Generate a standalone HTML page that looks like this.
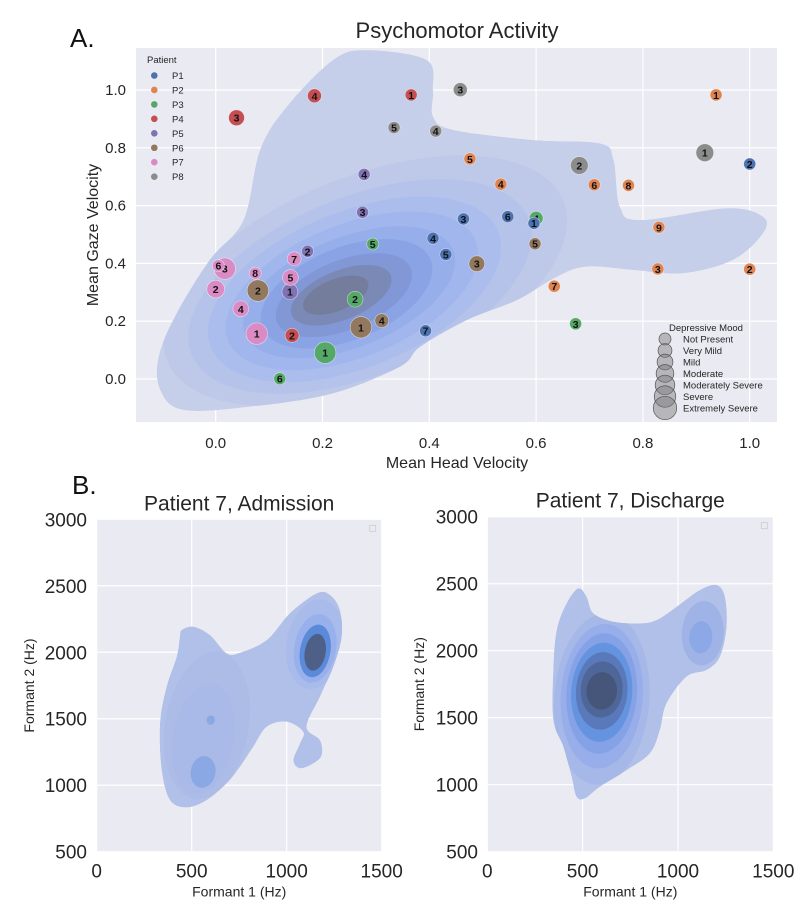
<!DOCTYPE html>
<html><head><meta charset="utf-8">
<style>
html,body{margin:0;padding:0;background:#fff;}
svg{display:block;font-family:"Liberation Sans",Arial,sans-serif;}
</style></head>
<body>
<svg id="root" width="800" height="924" viewBox="0 0 800 924" xmlns="http://www.w3.org/2000/svg"></svg>
<script>
// ---------- Panel A data ----------
const patients = ['P1','P2','P3','P4','P5','P6','P7','P8'];
const patientColors = ['#4c72b0','#dd8452','#55a868','#c44e52','#8172b3','#937860','#da8bc3','#8c8c8c'];
const pointPatient = [0,0,0,0,0,0,0, 1,1,1,1,1,1,1,1,1, 2,2,2,2,2,2, 3,3,3,3, 4,4,4,4, 5,5,5,5,5, 6,6,6,6,6,6,6,6, 7,7,7,7,7];
const pointLabel   = [1,2,3,4,5,6,7, 1,2,3,4,5,6,7,8,9, 1,2,3,4,5,6, 1,2,3,4, 1,2,3,4, 1,2,3,4,5, 1,2,3,4,5,6,7,8, 1,2,3,4,5];
const headVel = [0.596,1.0,0.464,0.407,0.431,0.547,0.393, 0.937,1.0,0.828,0.534,0.476,0.709,0.634,0.773,0.830, 0.205,0.261,0.674,0.600,0.294,0.120, 0.366,0.143,0.039,0.185, 0.139,0.172,0.275,0.278, 0.272,0.079,0.489,0.311,0.598, 0.077,0.0,0.017,0.047,0.140,0.005,0.147,0.074, 0.916,0.681,0.458,0.412,0.334];
const gazeVel = [0.539,0.744,0.554,0.487,0.431,0.562,0.167, 0.983,0.380,0.381,0.674,0.762,0.672,0.321,0.670,0.525, 0.091,0.276,0.191,0.556,0.467,0.001, 0.983,0.151,0.904,0.980, 0.302,0.442,0.577,0.708, 0.179,0.306,0.399,0.202,0.468, 0.157,0.311,0.382,0.243,0.351,0.392,0.416,0.366, 0.783,0.739,1.001,0.858,0.870];
const moodLevel = [0,0,0,0,0,0,0, 0,0,0,0,0,0,0,0,0, 5,2,0,1,0,0, 0,1,2,1, 2,0,0,0, 5,5,2,1,0, 5,3,5,2,2,0,1,0, 3,3,1,0,0];
const moodNames = ['Not Present','Very Mild','Mild','Moderate','Moderately Severe','Severe','Extremely Severe'];
const xTicksA = [0.0,0.2,0.4,0.6,0.8,1.0];
const yTicksA = [0.0,0.2,0.4,0.6,0.8,1.0];
const kdeOuterA = [[-0.104,-0.038],[-0.107,0.077],[-0.073,0.227],[-0.011,0.412],[0.052,0.55],[0.083,0.792],[0.133,0.942],[0.22,1.104],[0.283,1.138],[0.395,1.104],[0.407,1.0],[0.407,0.908],[0.445,0.862],[0.595,0.827],[0.72,0.815],[0.745,0.758],[0.757,0.596],[0.795,0.55],[0.957,0.591],[1.025,0.562],[1.025,0.504],[0.969,0.412],[0.876,0.366],[0.782,0.377],[0.695,0.389],[0.639,0.354],[0.564,0.273],[0.47,0.204],[0.383,0.112],[0.345,0.043],[0.22,-0.049],[0.064,-0.096],[-0.061,-0.107]];
const kdeCxA = [0.28,0.27,0.26,0.255,0.25,0.245,0.24,0.235,0.225];
const kdeCyA = [0.34,0.32,0.31,0.305,0.30,0.295,0.29,0.29,0.29];
const kdeRxA = [0.40,0.34,0.29,0.25,0.21,0.17,0.135,0.10,0.065];
const kdeRyA = [0.36,0.31,0.27,0.23,0.19,0.16,0.12,0.085,0.055];

// ---------- Panel B data ----------
const xTicksB = [0,500,1000,1500];
const yTicksB = [500,1000,1500,2000,2500,3000];
const admOuter = [[447,2167],[509,2192],[596,2130],[684,1992],[754,1997],[895,2092],[1017,2293],[1158,2443],[1228,2431],[1280,2318],[1289,2117],[1245,1891],[1175,1666],[1105,1440],[1175,1340],[1184,1227],[1140,1164],[1070,1127],[1035,1189],[1070,1315],[1087,1402],[1000,1478],[895,1440],[824,1290],[754,1139],[684,1014],[579,888],[474,833],[386,888],[342,1114],[333,1465],[368,1741],[421,1967],[438,2117]];
const admCx = [580,560,1150,1150,1150,1150,560,600];
const admCy = [1450,1350,2060,2030,2010,2000,1100,1490];
const admRx = [220,160,150,110,80,55,65,22];
const admRy = [560,420,340,260,200,140,120,35];
const admCol = ['#adbce7','#a9b9e8','#a9bbea','#98b0ec','#5b8ad8','#4e5f88','#8aa8e4','#8aa8e4'];
const disOuter = [[477,2465],[521,2403],[556,2279],[661,2216],[801,2204],[888,2229],[993,2328],[1115,2453],[1203,2490],[1246,2403],[1255,2179],[1220,1955],[1150,1856],[1045,1806],[940,1607],[905,1408],[853,1234],[731,1109],[591,985],[512,898],[468,910],[442,1060],[399,1284],[346,1483],[346,1856],[364,2154],[416,2353]];
const disCx = [1130,1120,600,600,600,600,600,600,600];
const disCy = [2130,2100,1640,1660,1680,1690,1700,1710,1700];
const disRx = [110,60,250,215,185,160,135,110,80];
const disRy = [240,120,640,540,450,370,290,210,140];
const disCol = ['#9fb3e6','#8ca8e6','#a6b8e8','#97aeea','#86a2e6','#6493e0','#5979bb','#4f6698','#46557a'];

// ---------- helpers ----------
const NS='http://www.w3.org/2000/svg';
const root=document.getElementById('root');
function mk(tag,attrs,parent){const e=document.createElementNS(NS,tag);for(const k in attrs)e.setAttribute(k,attrs[k]);(parent||root).appendChild(e);return e;}
function txt(s,attrs,parent){const e=mk('text',attrs,parent);e.textContent=s;return e;}
function smoothClosed(pts){
 const n=pts.length;let d='M'+pts[0][0].toFixed(1)+','+pts[0][1].toFixed(1);
 for(let i=0;i<n;i++){
  const p0=pts[(i-1+n)%n],p1=pts[i],p2=pts[(i+1)%n],p3=pts[(i+2)%n];
  const c1=[p1[0]+(p2[0]-p0[0])/6,p1[1]+(p2[1]-p0[1])/6];
  const c2=[p2[0]-(p3[0]-p1[0])/6,p2[1]-(p3[1]-p1[1])/6];
  d+='C'+c1[0].toFixed(1)+','+c1[1].toFixed(1)+' '+c2[0].toFixed(1)+','+c2[1].toFixed(1)+' '+p2[0].toFixed(1)+','+p2[1].toFixed(1);
 }
 return d+'Z';
}

// ===== Panel A =====
const A={l:136,r:777,t:48,b:422};
const xA=v=>215.7+v*534, yA=v=>379-v*289;
let g=mk('g',{});


let bg=mk('rect',{x:A.l,y:A.t,width:A.r-A.l,height:A.b-A.t,fill:'#eaeaf2'},g);


xTicksA.forEach(v=>{mk('line',{x1:xA(v),x2:xA(v),y1:A.t,y2:A.b,stroke:'#fff','stroke-width':1.2},g);
 const t=txt(v.toFixed(1),{x:xA(v),y:448,'font-size':15,'text-anchor':'middle',fill:'#262626'},g);
 });
yTicksA.forEach(v=>{mk('line',{x1:A.l,x2:A.r,y1:yA(v),y2:yA(v),stroke:'#fff','stroke-width':1.2},g);
 const t=txt(v.toFixed(1),{x:126,y:yA(v)+5,'font-size':15,'text-anchor':'end',fill:'#262626'},g);
 });
const defs=mk('defs',{});
const cpA=mk('clipPath',{id:'clipA'},defs);
const outerDA=smoothClosed(kdeOuterA.map(p=>[xA(p[0]),yA(p[1])]));
mk('path',{d:outerDA},cpA);
const kdeG=mk('g',{'clip-path':'url(#clipA)'},g);


const outerP=mk('path',{d:outerDA,fill:'#c6cfea'},kdeG);


const colsA=['#bec9ea','#b5c3eb','#abbdec','#a1b6ec','#96aeea','#8aa3e4','#8197d6','#7b89b6','#747d9c'];
kdeCxA.forEach((cx,i)=>{const e=mk('ellipse',{cx:xA(cx),cy:yA(kdeCyA[i]),rx:kdeRxA[i]*534,ry:kdeRyA[i]*289,fill:colsA[i],transform:`rotate(-22 ${xA(cx)} ${yA(kdeCyA[i])})`},kdeG);
 });
const order=headVel.map((_,i)=>i).sort((a,b)=>moodLevel[b]-moodLevel[a]);
order.forEach(i=>{const pg=mk('g',{},g);
 
 
 const r=6+moodLevel[i]*0.95;
 mk('circle',{cx:xA(headVel[i]),cy:yA(gazeVel[i]),r:r,fill:patientColors[pointPatient[i]],stroke:'#ffffff','stroke-opacity':0.6,'stroke-width':0.6},pg);
 txt(String(pointLabel[i]),{x:xA(headVel[i]),y:yA(gazeVel[i])+4,'font-size':10.5,'font-weight':'bold','text-anchor':'middle',fill:'#111'},pg);});
const lg=mk('g',{},g);


txt('Patient',{x:147,y:63,'font-size':9.5,fill:'#262626'},lg);
patients.forEach((p,i)=>{const eg=mk('g',{},lg);
 
 const y=75.5+i*14.45;
 mk('circle',{cx:154.3,cy:y,r:3.3,fill:patientColors[i]},eg);
 txt(p,{x:172,y:y+3.5,'font-size':9.5,fill:'#262626'},eg);});
const sg=mk('g',{},g);


txt('Depressive Mood',{x:669,y:331,'font-size':9.5,fill:'#262626'},sg);
moodNames.forEach((m,i)=>{const eg=mk('g',{},sg);
 
 const y=339+i*11.5;
 mk('circle',{cx:665,cy:y,r:6+i*0.95,fill:'rgba(120,120,120,0.45)',stroke:'#555','stroke-width':0.7},eg);
 txt(m,{x:683,y:y+3.5,'font-size':9.5,fill:'#262626'},eg);});
let t;
t=txt('Psychomotor Activity',{x:457,y:38,'font-size':22,'text-anchor':'middle',fill:'#262626'},g);
t=txt('A.',{x:70,y:47,'font-size':26,fill:'#111'},g);
t=txt('Mean Head Velocity',{x:457,y:468,'font-size':16,'text-anchor':'middle',fill:'#262626'},g);
t=txt('Mean Gaze Velocity',{x:0,y:0,'font-size':16,'text-anchor':'middle',fill:'#262626',transform:'translate(98,235) rotate(-90)'},g);

// ===== Panel B =====
t=txt('B.',{x:72,y:494,'font-size':26,fill:'#111'});
function panelB(name,title,L,R,T,Bt,outer,cxs,cys,rxs,rys,cols,yLabX,tickR,rot){
 const sx=v=>L+v*(R-L)/1500, sy=v=>Bt-(v-500)*(Bt-T)/2500;
 const pg=mk('g',{});
 
 
 mk('rect',{x:L,y:T,width:R-L,height:Bt-T,fill:'#eaeaf2'},pg);
 xTicksB.forEach(v=>{mk('line',{x1:sx(v),x2:sx(v),y1:T,y2:Bt,stroke:'#fff','stroke-width':1.2},pg);
  const tt=txt(String(v),{x:sx(v),y:Bt+26,'font-size':19,'text-anchor':'middle',fill:'#262626'},pg);
  });
 yTicksB.forEach(v=>{mk('line',{x1:L,x2:R,y1:sy(v),y2:sy(v),stroke:'#fff','stroke-width':1.2},pg);
  const tt=txt(String(v),{x:tickR,y:sy(v)+7,'font-size':19,'text-anchor':'end',fill:'#262626'},pg);
  });
 const id='clip'+name;
 const cp=mk('clipPath',{id:id},defs);
 const d=smoothClosed(outer.map(p=>[sx(p[0]),sy(p[1])]));
 mk('path',{d:d},cp);
 const kg=mk('g',{'clip-path':`url(#${id})`},pg);
 
 
 const op=mk('path',{d:d,fill:'#b1c0e8'},kg);
 
 
 cxs.forEach((cx,i)=>{const e=mk('ellipse',{cx:sx(cx),cy:sy(cys[i]),rx:rxs[i]*(R-L)/1500,ry:rys[i]*(Bt-T)/2500,fill:cols[i],transform:`rotate(${rot} ${sx(cx)} ${sy(cys[i])})`},kg);
  });
 const lb=mk('rect',{x:R-12,y:T+6,width:6,height:6,fill:'none',stroke:'#ccc','stroke-width':0.8},pg);
 
 let tt=txt(title,{x:(L+R)/2,y:T-9,'font-size':21,'text-anchor':'middle',fill:'#262626'},pg);
 
 tt=txt('Formant 1 (Hz)',{x:(L+R)/2,y:Bt+45,'font-size':14,'text-anchor':'middle',fill:'#262626'},pg);
 
 tt=txt('Formant 2 (Hz)',{x:0,y:0,'font-size':14,'text-anchor':'middle',fill:'#262626',transform:`translate(${yLabX},${(T+Bt)/2}) rotate(-90)`},pg);
 
}
panelB('admission-chart','Patient 7, Admission',96.7,381.7,519.3,851.7,admOuter,admCx,admCy,admRx,admRy,admCol,34,87,10);
panelB('discharge-chart','Patient 7, Discharge',487.3,773.3,516.7,851.7,disOuter,disCx,disCy,disRx,disRy,disCol,424,478,4);
</script>
</body></html>
